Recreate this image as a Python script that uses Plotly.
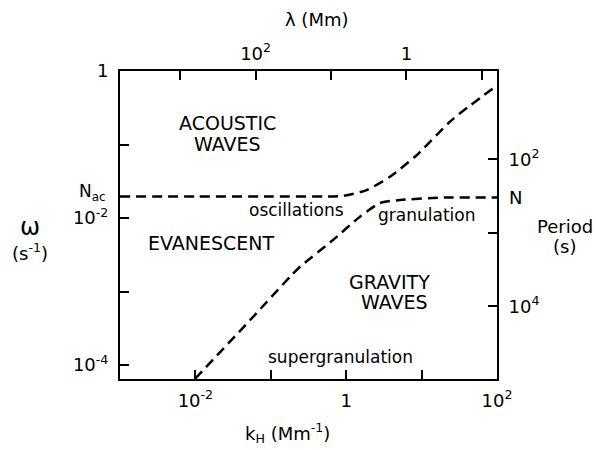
import math
import plotly.graph_objects as go

# ---- data (log-log diagnostic diagram) ----
# acoustic cutoff branch: omega vs horizontal wavenumber k_H (Mm^-1)
acoustic_k = [0.001, 0.01, 0.1, 0.5, 0.908, 1.87, 3.81, 8.17, 25.1, 93.3]
acoustic_w = [0.0196, 0.0196, 0.0196, 0.0196, 0.0200, 0.0240, 0.0365, 0.0682, 0.215, 0.605]

# gravity-wave (Brunt-Vaisala) branch
gravity_k = [0.0099, 0.058, 0.18, 0.244, 0.668, 1.52, 2.81, 5.18, 20.0, 100.0]
gravity_w = [6.5e-5, 4.5e-4, 1.59e-3, 2.17e-3, 5.02e-3, 1.04e-2, 1.60e-2, 1.76e-2, 1.90e-2, 1.90e-2]

# axis ticks
k_ticks = [0.01, 0.1, 1, 10, 100]
k_ticktext = ["10<sup>-2</sup>", "", "1", "", "10<sup>2</sup>"]
w_ticks = [1e-4, 1e-3, 1e-2, 1e-1, 1]
w_ticktext = ["10<sup>-4</sup>", "", "10<sup>-2</sup>", "", "1"]
lambda_ticks = [1000, 100, 10, 1, 0.1]          # Mm
lambda_ticktext = ["", "10<sup>2</sup>", "", "1", ""]
period_ticks = [100, 1000, 10000]               # s
period_ticktext = ["10<sup>2</sup>", "", "10<sup>4</sup>"]

FONT = "DejaVu Sans"
dash = "10px,6px"

fig = go.Figure()
fig.add_trace(go.Scatter(x=acoustic_k, y=acoustic_w, mode="lines",
                         line=dict(color="black", width=2.5, dash=dash,
                                   shape="spline", smoothing=0.6),
                         showlegend=False, hoverinfo="skip"))
fig.add_trace(go.Scatter(x=gravity_k, y=gravity_w, mode="lines",
                         line=dict(color="black", width=2.5, dash=dash,
                                   shape="spline", smoothing=0.6),
                         showlegend=False, hoverinfo="skip"))
# carrier for the secondary (top/right) axes
fig.add_trace(go.Scatter(x=[1], y=[1e-2], xaxis="x2", yaxis="y2", mode="markers",
                         marker=dict(opacity=0), showlegend=False, hoverinfo="skip"))

axis_style = dict(type="log", showgrid=False, zeroline=False, showline=True,
                  linecolor="black", linewidth=2, ticks="inside", ticklen=9,
                  tickwidth=2, tickcolor="black",
                  tickfont=dict(family=FONT, size=18, color="black"))

xr = [-3, 2]
yr = [-4.19, 0]

fig.update_layout(
    width=596, height=450,
    margin=dict(l=120, r=99, t=71, b=71),
    paper_bgcolor="white", plot_bgcolor="white",
    font=dict(family=FONT, color="black"),
    xaxis=dict(range=xr, tickvals=k_ticks, ticktext=k_ticktext,
               ticklabelstandoff=4, **axis_style),
    xaxis2=dict(range=xr, overlaying="x", side="top", anchor="y",
                tickvals=[2 * math.pi / l for l in lambda_ticks],
                ticktext=lambda_ticktext, ticklabelstandoff=2, **axis_style),
    yaxis=dict(range=yr, tickvals=w_ticks, ticktext=w_ticktext,
               ticklabelstandoff=6, **axis_style),
    yaxis2=dict(range=yr, overlaying="y", side="right", anchor="x",
                tickvals=[2 * math.pi / p for p in period_ticks],
                ticktext=period_ticktext, ticklabelstandoff=6, **axis_style),
)

def note(text, x, y, size=18, xanchor="center"):
    fig.add_annotation(text=text, x=x, y=y, xref="paper", yref="paper",
                       showarrow=False, xanchor=xanchor, yanchor="middle",
                       font=dict(family=FONT, size=size, color="black"))

# region labels
note("ACOUSTIC", 0.284, 0.831, 19)
note("WAVES", 0.284, 0.763, 19)
note("EVANESCENT", 0.244, 0.442, 19)
note("oscillations", 0.469, 0.549, 17)
note("granulation", 0.814, 0.532, 17)
note("GRAVITY", 0.714, 0.315, 19)
note("WAVES", 0.729, 0.250, 19)
note("supergranulation", 0.584, 0.071, 17)

# axis side labels
note("N<sub>ac</sub>", -0.032, 0.605, 17, xanchor="right")
note("N", 1.0265, 0.588, 18, xanchor="left")
note("λ (Mm)", 0.522, 1.166, 18)
note("k<sub>H</sub> (Mm<sup>-1</sup>)", 0.443, -0.175, 18)
note("ω", -0.239, 0.494, 24)
note("(s<sup>-1</sup>)", -0.239, 0.412, 18)
note("Period", 1.180, 0.494, 18)
note("(s)", 1.180, 0.429, 18)

fig.write_html("out.html", config={"displayModeBar": False},
               post_script="document.body.style.margin='0';")
